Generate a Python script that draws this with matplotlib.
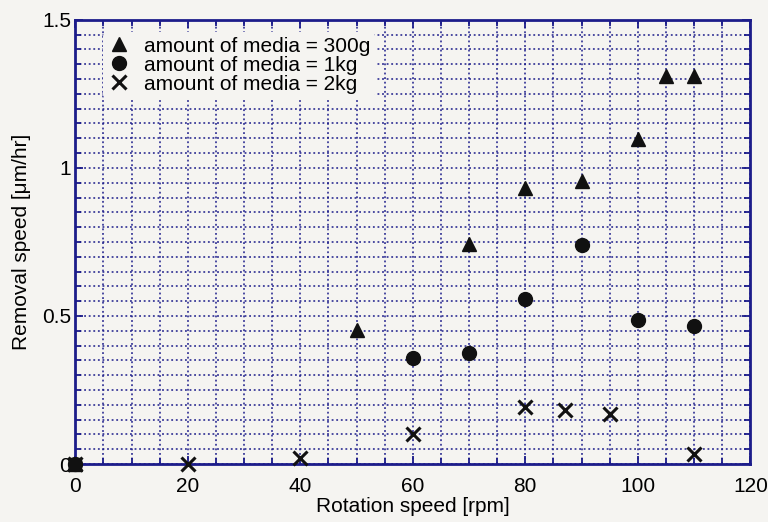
import numpy as np
import matplotlib.pyplot as plt
from matplotlib.ticker import MultipleLocator

plt.rcParams['font.family'] = ['Liberation Sans', 'DejaVu Sans']

# amount of media = 300g
x_300g = [0, 50, 70, 80, 90, 100, 105, 110]
y_300g = [0, 0.453, 0.743, 0.932, 0.956, 1.098, 1.31, 1.31]

# amount of media = 1kg
x_1kg = [0, 60, 70, 80, 90, 100, 110]
y_1kg = [0, 0.358, 0.375, 0.557, 0.74, 0.486, 0.466]

# amount of media = 2kg
x_2kg = [0, 20, 40, 60, 80, 87, 95, 110]
y_2kg = [0, 0.0, 0.02, 0.10, 0.193, 0.182, 0.169, 0.034]

bg = '#f5f4f1'
blue = '#1c1c8a'

fig = plt.figure(figsize=(7.68, 5.22), dpi=100, facecolor=bg)
ax = fig.add_axes([0.098, 0.111, 0.879, 0.851], facecolor=bg)

ax.plot(x_300g, y_300g, '^', color='#111111', markersize=10, linestyle='none',
        label='amount of media = 300g', zorder=5, clip_on=False)
ax.plot(x_1kg, y_1kg, 'o', color='#111111', markersize=10, linestyle='none',
        label='amount of media = 1kg', zorder=5, clip_on=False)
ax.plot(x_2kg, y_2kg, 'x', color='#111111', markersize=10, markeredgewidth=2.2,
        linestyle='none', label='amount of media = 2kg', zorder=5, clip_on=False)
# square blob at origin
ax.plot([0], [0], 's', color='#111111', markersize=8, zorder=6, clip_on=False)

ax.set_xlim(0, 120)
ax.set_ylim(0, 1.5)
ax.xaxis.set_major_locator(MultipleLocator(20))
ax.xaxis.set_minor_locator(MultipleLocator(5))
ax.yaxis.set_minor_locator(MultipleLocator(0.05))
ax.set_yticks([0, 0.5, 1, 1.5])
ax.set_yticklabels(['0', '0.5', '1', '1.5'])

ax.grid(True, which='both', color=blue, linestyle=(0, (1.2, 1.8)), linewidth=1.1)
ax.set_axisbelow(True)

ax.tick_params(which='both', direction='in', top=True, right=True, color=blue,
               labelsize=15, width=1.3)
ax.tick_params(axis='x', which='major', pad=9)
ax.tick_params(axis='y', which='major', pad=3)
ax.tick_params(which='major', length=6)
ax.tick_params(which='minor', length=4)
for s in ax.spines.values():
    s.set_color(blue)
    s.set_linewidth(2)

ax.set_xlabel('Rotation speed [rpm]', fontsize=15, labelpad=1)
ax.set_ylabel('Removal speed [\u03bcm/hr]', fontsize=15, labelpad=8)

leg = ax.legend(loc='upper left', fontsize=15, frameon=True, handletextpad=0.6,
                labelspacing=0.0, borderpad=0.2, handlelength=1.2,
                bbox_to_anchor=(0.025, 0.995))
leg.get_frame().set_facecolor(bg)
leg.get_frame().set_edgecolor('none')
leg.get_frame().set_alpha(1)

plt.savefig('out.png', dpi=100, facecolor=bg)
